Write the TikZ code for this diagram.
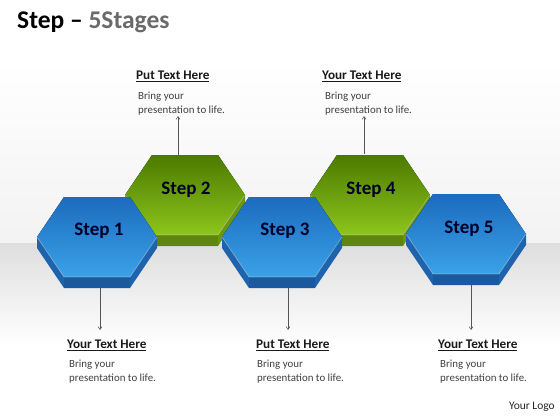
\documentclass[tikz,border=0pt]{standalone}
\usepackage{fontspec}
\setmainfont{Carlito}
\usetikzlibrary{arrows.meta}
\definecolor{bluetop}{HTML}{1C6BBE}
\definecolor{bluebot}{HTML}{3AA2E8}
\definecolor{blueside}{HTML}{1D63AE}
\definecolor{greentop}{HTML}{4C7A00}
\definecolor{greenbot}{HTML}{8DC51C}
\definecolor{greenside}{HTML}{6A950E}
\definecolor{titlegray}{HTML}{6A6A6A}
\definecolor{bodygray}{HTML}{404040}
\definecolor{arrowgray}{HTML}{555555}
\newcommand\myhex[5]{%
  \begin{scope}[shift={(#1,#2)}]
    \fill[#5] (-60,0) -- (-60,11) -- (-33,51) -- (33,51) -- (60,11) -- (60,0) -- (33,40) -- (-33,40) -- cycle;
    \fill[#5!90!black] (-33,40) -- (-33,51) -- (33,51) -- (33,40) -- cycle;
    \fill[top color=#3, bottom color=#4] (-60,0) -- (-33,-40) -- (33,-40) -- (60,0) -- (33,40) -- (-33,40) -- cycle;
    \draw[white, opacity=0.35, line width=0.8pt] (-60,0) -- (-33,40) -- (33,40) -- (60,0);
  \end{scope}}
\tikzset{
  steplabel/.style={font=\bfseries\fontsize{19}{22}\selectfont, text=black!85!blue, inner sep=0pt},
  headtext/.style={anchor=west, font=\bfseries\fontsize{13.2}{15}\selectfont, text=black!90, inner sep=0pt},
  bodytext/.style={anchor=north west, align=left, font=\fontsize{10.9}{13.8}\selectfont, text=bodygray, inner sep=0pt},
  arr/.style={draw=arrowgray, line width=0.5pt, -{Straight Barb[length=3pt,width=4pt]}}
}
\begin{document}
\begin{tikzpicture}[x=1pt,y=-1pt]
\useasboundingbox (0,0) rectangle (560,420);
% background
\fill[white] (0,0) rectangle (560,420);
\fill[top color=white, bottom color=black!5] (0,60) rectangle (560,243);
\fill[top color=black!13, bottom color=white] (0,243) rectangle (560,345);
% title
\node[anchor=west, inner sep=0pt, font=\bfseries\fontsize{25.5}{30}\selectfont] (title) at (17,22) {Step – \textcolor{titlegray}{5Stages}};
% hexagons: green behind, blue in front
\myhex{185}{195}{greentop}{greenbot}{greenside}
\myhex{370}{195}{greentop}{greenbot}{greenside}
\myhex{97}{237}{bluetop}{bluebot}{blueside}
\myhex{282}{237}{bluetop}{bluebot}{blueside}
\myhex{466}{234}{bluetop}{bluebot}{blueside}
% labels
\node[steplabel] (s1) at (99,231) {Step 1};
\node[steplabel] (s2) at (186,190) {Step 2};
\node[steplabel] (s3) at (285,231) {Step 3};
\node[steplabel] (s4) at (371,190) {Step 4};
\node[steplabel] (s5) at (469,229) {Step 5};
% top texts
\node[headtext] (h2) at (136,76) {\underline{Put Text Here}};
\node[bodytext] (b2) at (138,92) {Bring your\\presentation to life.};
\node[headtext] (h4) at (322,76) {\underline{Your Text Here}};
\node[bodytext] (b4) at (325,92) {Bring your\\presentation to life.};
% bottom texts
\node[headtext] (h1) at (67,345) {\underline{Your Text Here}};
\node[bodytext] (b1) at (69,360) {Bring your\\presentation to life.};
\node[headtext] (h3) at (256,345) {\underline{Put Text Here}};
\node[bodytext] (b3) at (257,360) {Bring your\\presentation to life.};
\node[headtext] (h5) at (438,345) {\underline{Your Text Here}};
\node[bodytext] (b5) at (440,360) {Bring your\\presentation to life.};
\node[anchor=east, inner sep=0pt, font=\fontsize{11.5}{13}\selectfont, text=black!85] (logo) at (555,407) {Your Logo};
% arrow anchors
\coordinate (a2s) at (178,155); \coordinate (a2e) at (178,116);
\coordinate (a4s) at (364,154); \coordinate (a4e) at (364,116);
\coordinate (a1s) at (100,288); \coordinate (a1e) at (100,330);
\coordinate (a3s) at (288,288); \coordinate (a3e) at (288,330);
\coordinate (a5s) at (471,285); \coordinate (a5e) at (471,330);
\draw[arr] (a2s) -- (a2e);
\draw[arr] (a4s) -- (a4e);
\draw[arr] (a1s) -- (a1e);
\draw[arr] (a3s) -- (a3e);
\draw[arr] (a5s) -- (a5e);
\end{tikzpicture}
\end{document}
